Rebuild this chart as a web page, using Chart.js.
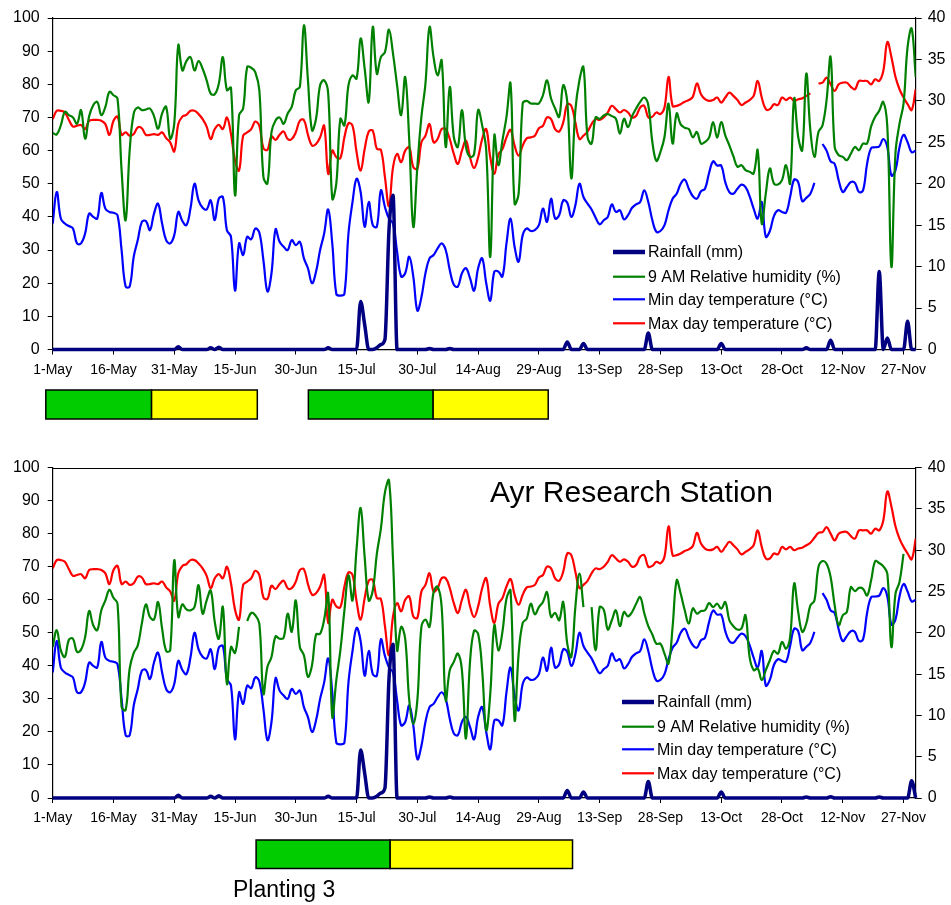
<!DOCTYPE html>
<html>
<head>
<meta charset="utf-8">
<title>Ayr Research Station</title>
<script src="https://cdn.jsdelivr.net/npm/chart.js@4.4.1/dist/chart.umd.min.js"></script>
<style>
  html, body { margin: 0; padding: 0; background: #fff; }
  #wrap { position: relative; width: 951px; height: 905px; }
  #c1 { position: absolute; left: 0; top: 0; }
  #c2 { position: absolute; left: 0; top: 450px; }
</style>
</head>
<body>
<div id="wrap">
  <canvas id="c1" width="951" height="450"></canvas>
  <canvas id="c2" width="951" height="455"></canvas>
</div>
<script>
// x = day number counted from 1-May (0) to 30-Nov (213)
const tickLabels = ['1-May', '16-May', '31-May', '15-Jun', '30-Jun', '15-Jul', '30-Jul', '14-Aug',
  '29-Aug', '13-Sep', '28-Sep', '13-Oct', '28-Oct', '12-Nov', '27-Nov'];

// min day temperature (°C), same in both panels
const minTemp = [
  15.2, 19.0, 15.8, 15.2, 14.9, 14.6, 12.8, 12.8, 14.0, 16.4,
  16.0, 15.8, 18.9, 17.0, 16.6, 16.5, 16.2, 12.0, 7.6, 7.6,
  11.2, 13.2, 15.4, 15.5, 14.4, 16.4, 17.6, 15.2, 13.2, 12.8,
  13.8, 16.6, 15.5, 15.0, 17.0, 20.0, 18.0, 17.1, 16.9, 18.0,
  15.6, 18.2, 18.4, 14.4, 13.6, 7.1, 12.8, 11.4, 13.6, 13.3,
  14.6, 14.1, 10.8, 7.0, 9.2, 14.5, 13.0, 12.4, 12.0, 13.2,
  12.6, 13.0, 11.0, 9.8, 8.0, 9.4, 12.0, 14.0, 16.9, 12.8,
  6.7, 6.5, 6.7, 14.0, 17.8, 20.6, 19.0, 14.8, 17.8, 15.0,
  14.8, 19.2, 17.2, 15.8, 15.2, 11.8, 8.8, 9.2, 11.2, 8.8,
  4.7, 6.3, 9.2, 11.0, 11.4, 12.2, 12.8, 12.0, 9.6, 7.8,
  7.6, 9.2, 9.8, 8.6, 7.1, 9.8, 11.0, 8.0, 5.9, 9.4,
  9.4, 8.8, 12.8, 15.8, 12.4, 10.6, 13.8, 14.6, 14.3, 14.4,
  15.0, 17.0, 15.4, 18.2, 15.8, 16.2, 18.0, 17.7, 16.0, 17.4,
  20.0, 18.4, 17.6, 16.9, 15.9, 15.1, 15.6, 16.0, 17.5, 16.6,
  16.8, 15.7, 16.2, 17.1, 17.5, 17.8, 19.2, 17.8, 15.6, 14.2,
  14.3, 15.0, 16.8, 18.2, 18.8, 20.0, 20.5, 19.4, 18.5, 18.2,
  19.1, 19.4, 21.3, 22.7, 22.2, 22.2, 20.2, 19.0, 18.8, 19.4,
  19.9, 19.6, 18.5, 17.0, 15.8, 17.8, 13.6, 14.3, 16.1, 16.8,
  16.6, 16.5, 18.4, 20.5, 20.2, 17.9, 18.3, 18.8, 20.1, null,
  24.8, 24.0, 22.7, 22.4, 20.4, 19.0, 19.6, 20.2, 20.1, 19.0,
  19.2, 22.4, 24.3, 24.4, 24.5, 25.4, 24.4, 21.0, 21.6, 24.4,
  25.9, 25.0, 23.8, 24.0
];

// max day temperature (°C)
const maxTemp = [
  27.8, 28.8, 28.8, 28.6, 27.7, 26.9, 27.0, 27.1, 26.6, 27.6,
  27.7, 27.7, 27.6, 27.2, 25.9, 27.6, 28.1, 25.9, 26.2, 25.8,
  26.0, 26.8, 26.7, 25.9, 25.9, 26.0, 25.9, 26.2, 25.5, 25.0,
  23.9, 27.2, 28.1, 28.3, 28.8, 28.8, 28.4, 27.8, 26.9, 25.4,
  26.6, 27.1, 26.6, 28.0, 26.0, 22.8, 21.6, 25.8, 26.2, 26.6,
  27.5, 27.0, 24.3, 24.1, 25.7, 25.3, 25.9, 26.3, 25.4, 25.4,
  26.2, 27.6, 27.7, 25.9, 24.6, 24.8, 25.6, 27.0, 21.2, 24.0,
  23.2, 23.1, 25.6, 27.3, 27.0, 23.8, 21.6, 24.2, 26.3, 26.4,
  24.2, 24.1, 20.8, 17.3, 22.0, 23.6, 22.6, 24.0, 24.4, 22.0,
  21.8, 25.0, 25.8, 27.2, 25.0, 25.4, 26.6, 26.6, 25.4, 23.6,
  22.4, 24.0, 25.2, 23.2, 21.9, 23.2, 25.4, 26.6, 23.2, 21.2,
  23.5, 24.2, 25.6, 26.5, 24.6, 23.4, 24.6, 25.5, 25.6, 25.8,
  26.7, 27.0, 28.0, 27.8, 26.6, 26.3, 27.4, 29.6, 29.4, 27.4,
  25.4, 25.8, 26.3, 27.2, 27.8, 27.7, 28.0, 28.6, 29.4, 29.0,
  28.6, 28.9, 28.6, 28.0, 28.2, 29.2, 29.4, 28.0, 28.1, 28.6,
  28.4, 29.2, 32.9, 29.4, 29.4, 29.6, 29.9, 30.1, 30.5, 32.1,
  30.8, 30.2, 30.0, 30.1, 30.4, 29.8, 30.4, 31.0, 30.6, 30.1,
  29.5, 29.8, 30.1, 30.6, 32.4, 30.4, 29.0, 29.0, 29.6, 29.5,
  30.4, 30.1, 30.4, 30.0, 30.2, 30.3, 30.6, 30.9, 31.5, 32.1,
  32.2, 32.8, 32.0, 31.2, 32.0, 32.2, 32.2, 31.7, 31.4, 32.4,
  32.4, 32.4, 32.0, 32.6, 32.4, 33.6, 37.1, 35.3, 32.9, 31.4,
  30.4, 29.6, 28.9, 31.4
];
// days missing from the max temperature line in the top panel
const maxTempGapsTop = [188];

// 9 AM relative humidity (%), top panel
const humTop = [
  65.3, 64.9, 67.6, 71.7, 70.7, 70.0, 68.1, 72.2, 63.6, 70.4,
  73.7, 74.7, 70.7, 73.2, 77.7, 76.7, 75.7, 54.1, 39.0, 60.1,
  71.2, 73.0, 72.2, 72.4, 72.7, 70.4, 66.6, 71.2, 73.2, 63.6,
  68.1, 91.8, 84.2, 87.0, 88.2, 84.2, 87.0, 84.7, 81.2, 77.2,
  77.0, 80.2, 88.2, 78.2, 79.0, 46.5, 70.7, 72.7, 85.2, 85.0,
  83.7, 78.2, 52.1, 50.1, 65.6, 69.1, 70.0, 68.1, 71.2, 73.2,
  78.2, 79.2, 97.8, 81.2, 66.1, 69.6, 79.7, 81.2, 77.2, 45.5,
  50.1, 69.6, 67.6, 79.7, 82.7, 81.7, 93.8, 84.7, 74.7, 97.3,
  83.2, 88.2, 89.7, 96.5, 89.2, 79.7, 70.7, 82.2, 63.1, 37.0,
  55.1, 70.2, 80.2, 97.3, 88.2, 82.7, 87.2, 61.1, 79.2, 64.1,
  61.1, 72.2, 61.1, 58.1, 58.9, 72.2, 67.6, 60.1, 27.9, 64.6,
  55.6, 63.1, 70.2, 80.2, 44.0, 47.0, 74.2, 75.0, 74.2, 74.2,
  74.2, 76.7, 81.2, 75.7, 72.7, 70.2, 79.7, 74.7, 51.6, 72.2,
  81.2, 85.2, 64.1, 62.1, 70.0, 69.6, 70.6, 71.0, 70.4, 69.6,
  65.1, 69.6, 67.1, 70.4, 72.7, 74.7, 76.0, 73.7, 62.6, 56.9,
  59.6, 64.1, 74.2, 62.1, 71.2, 67.9, 66.9, 66.5, 64.0, 65.6,
  62.1, 62.6, 63.9, 68.6, 63.9, 68.6, 64.6, 61.6, 58.3, 55.1,
  55.6, 54.1, 53.6, 53.1, 60.1, 38.0, 47.0, 54.6, 50.1, 49.8,
  51.1, 55.6, 50.1, 75.7, 64.1, 60.1, 83.2, 66.1, 58.1, 65.6,
  67.6, 75.2, 88.2, 61.1, 58.6, 58.1, 57.1, 59.1, 61.1, 60.1,
  62.1, 62.1, 67.3, 70.2, 72.0, 74.7, 67.1, 24.9, 59.1, 68.1,
  74.2, 91.3, 96.8, 82.2
];

// 9 AM relative humidity (%), bottom panel
const humBottom = [
  45.7, 50.8, 44.7, 42.7, 47.9, 48.2, 44.2, 44.9, 48.7, 56.6,
  52.3, 50.8, 56.8, 59.8, 63.0, 60.6, 58.8, 27.6, 26.6, 39.2,
  43.9, 46.2, 52.8, 58.6, 54.8, 54.0, 59.3, 51.3, 44.5, 44.7,
  71.9, 54.8, 58.6, 57.1, 56.8, 57.8, 64.4, 55.8, 59.8, 62.8,
  53.3, 48.2, 57.8, 34.6, 45.7, 43.9, 51.8, null, 53.6, 56.0,
  55.3, 52.8, 31.6, 39.7, 42.7, 48.9, 48.2, 48.5, 55.8, 50.3,
  59.8, 45.7, 43.2, 36.7, 40.2, 49.5, 49.7, 54.0, 61.8, 24.6,
  35.7, 44.7, 56.8, 67.4, 59.8, 75.4, 87.8, 72.9, 59.8, 62.8,
  73.9, 81.5, 92.5, 96.1, 71.9, 44.7, 51.8, 48.2, 29.6, 22.4,
  29.6, 51.8, 54.0, 51.8, 62.3, 64.0, 57.8, 29.6, 38.7, 41.2,
  43.7, 38.7, 18.0, 41.2, 50.6, 49.7, 38.7, 20.5, 31.6, 52.3,
  44.7, 50.3, 60.3, 62.8, 23.6, 43.7, 53.0, 54.3, 58.8, 55.6,
  57.8, 59.3, 62.3, 54.8, 56.0, 53.8, 59.3, 46.7, 42.7, 57.8,
  67.9, 57.8, null, 57.8, 44.7, 57.8, 57.0, 51.0, 53.8, 56.8,
  52.0, 56.3, 55.0, 56.3, 58.8, 60.8, 56.0, 52.0, 49.5, 46.7,
  46.7, 43.7, 40.7, 51.8, 65.9, 61.8, 56.8, 52.8, 57.4, 55.8,
  56.6, 56.8, 59.0, 57.8, 58.8, 57.3, 59.3, 53.8, 52.0, 51.0,
  51.3, 55.3, 42.7, 38.7, 39.2, 35.7, 38.7, 41.7, 44.5, 43.7,
  47.2, 45.2, 48.7, 64.9, 56.3, 50.3, 52.8, 58.3, 59.8, 69.9,
  71.7, 70.9, 66.9, 58.3, 52.3, 55.3, 56.3, 63.8, 62.6, 63.6,
  63.3, 61.3, 65.9, 71.7, 71.1, 70.1, 67.9, 45.7, 61.8, 65.4,
  73.9, null, null, null
];

// rainfall (mm): only the rainy days, every other day is 0
const rainDaysTop = [31, 39, 41, 68, 76, 77, 80, 81, 82, 83, 84, 93, 98, 127, 131, 147, 165, 186, 192, 204, 206, 211];
const rainTop = [0.8, 0.5, 0.7, 0.5, 14.5, 7.5, 0.5, 1.5, 3.0, 36, 46.5, 0.3, 0.3, 2.3, 1.8, 5.0, 1.8, 0.5, 2.8, 23.5, 3.5, 8.5];
const rainDaysBottom = [31, 39, 41, 68, 76, 77, 80, 81, 82, 83, 84, 93, 98, 127, 131, 147, 165, 186, 192, 204, 212];
const rainBottom = [0.8, 0.5, 0.7, 0.5, 14.5, 7.5, 0.5, 1.5, 3.0, 36, 46.5, 0.3, 0.3, 2.3, 1.8, 5.0, 1.8, 0.3, 0.4, 0.3, 5.2];

// crop stage bars under the axis, in days: [from, to]
const stagesTop = [[-1.7, 24.4], [24.4, 50.5], [63.1, 93.9], [93.9, 122.3]];
const stagesBottom = [[50.2, 83.3], [83.3, 128.3]];
const stageColors = ['#00CC00', '#FFFF00'];

const LAST_DAY = 213;
const FONT = '"Liberation Sans", Arial, Helvetica, sans-serif';
Chart.defaults.font.family = FONT;
Chart.defaults.color = '#000';

function daily(values) {
  return values.map((v, i) => ({ x: i, y: v }));
}
function rainSeries(days, mm) {
  const out = [];
  for (let d = 0; d <= LAST_DAY; d++) {
    const k = days.indexOf(d);
    out.push({ x: d, y: k >= 0 ? mm[k] : 0 });
  }
  return out;
}

// frame, legend, stage bars and free texts
const extras = {
  id: 'extras',
  afterDraw(chart, args, o) {
    const ctx = chart.ctx;
    const a = chart.chartArea;
    const xs = chart.scales.x;
    ctx.save();
    ctx.strokeStyle = '#000';
    ctx.lineWidth = 1.2;
    ctx.beginPath();
    ctx.moveTo(a.left, Math.round(a.top) + 0.5);
    ctx.lineTo(a.right, Math.round(a.top) + 0.5);
    ctx.stroke();

    // legend
    const rows = [252, 276.7, 299.3, 323.3];
    ctx.font = '16px ' + FONT;
    ctx.textBaseline = 'middle';
    ctx.textAlign = 'left';
    chart.data.datasets.forEach((ds, i) => {
      ctx.strokeStyle = ds.borderColor;
      ctx.lineWidth = i === 0 ? 4.5 : ds.borderWidth;
      ctx.beginPath();
      ctx.moveTo(o.legendX, rows[i]);
      ctx.lineTo(o.legendX + 32, rows[i]);
      ctx.stroke();
      ctx.fillStyle = '#000';
      ctx.fillText(ds.label, o.legendX + 35, rows[i] + 1);
    });

    // stage bars
    o.stages.forEach((s, i) => {
      const x0 = xs.getPixelForValue(s[0]);
      const x1 = xs.getPixelForValue(s[1]);
      ctx.fillStyle = stageColors[i % 2];
      ctx.fillRect(x0, o.barTop, x1 - x0, o.barH);
      ctx.strokeStyle = '#000';
      ctx.lineWidth = 1.5;
      ctx.strokeRect(x0, o.barTop, x1 - x0, o.barH);
    });

    (o.texts || []).forEach(t => {
      ctx.font = t.size + 'px ' + FONT;
      ctx.fillStyle = '#000';
      ctx.textBaseline = 'alphabetic';
      ctx.fillText(t.text, t.x, t.y);
    });
    ctx.restore();
  }
};

function makePanel(canvasId, hum, rain, maxT, p) {
  return new Chart(document.getElementById(canvasId), {
    type: 'line',
    data: {
      datasets: [
        { label: 'Rainfall (mm)', data: rain, yAxisID: 'yL', borderColor: '#000080',
          borderWidth: 3.5, cubicInterpolationMode: 'monotone', clip: 6 },
        { label: '9 AM Relative humidity (%)', data: daily(hum), yAxisID: 'yL',
          borderColor: '#008000', borderWidth: 2.2, tension: 0.4 },
        { label: 'Min day temperature (°C)', data: daily(minTemp), yAxisID: 'yR',
          borderColor: '#0000FF', borderWidth: 2.2, tension: 0.4 },
        { label: 'Max day temperature (°C)', data: daily(maxT), yAxisID: 'yR',
          borderColor: '#FF0000', borderWidth: 2.2, tension: 0.4 }
      ]
    },
    options: {
      responsive: false,
      animation: false,
      events: [],
      layout: { padding: { top: p.top, left: 0, right: 0, bottom: 0 } },
      elements: { point: { radius: 0 } },
      plugins: {
        legend: { display: false },
        tooltip: { enabled: false },
        extras: p.extras
      },
      scales: {
        x: {
          type: 'linear', min: 0, max: LAST_DAY,
          afterFit: s => { s.height = p.xH; },
          ticks: {
            stepSize: 15, includeBounds: false, autoSkip: false, maxRotation: 0,
            padding: 7, color: '#000', font: { size: 14 },
            callback: v => tickLabels[Math.round(v / 15)]
          },
          grid: { drawOnChartArea: false, tickLength: 5, color: '#000' },
          border: { color: '#000', width: 1.2 }
        },
        yL: {
          position: 'left', min: 0, max: 100,
          afterFit: s => { s.width = 52.7; },
          ticks: { stepSize: 10, padding: 8, color: '#000', font: { size: 16 } },
          grid: { drawOnChartArea: false, tickLength: 5, color: '#000' },
          border: { color: '#000', width: 1.2 }
        },
        yR: {
          position: 'right', min: 0, max: 40,
          afterFit: s => { s.width = 35.3; },
          ticks: { stepSize: 5, padding: 6, color: '#000', font: { size: 16 } },
          grid: { drawOnChartArea: false, tickLength: 6, color: '#000' },
          border: { color: '#000', width: 1.2 }
        }
      }
    },
    plugins: [extras]
  });
}

const maxTempTop = maxTemp.map((v, i) => maxTempGapsTop.includes(i) ? null : v);

makePanel('c1', humTop, rainSeries(rainDaysTop, rainTop), maxTempTop, {
  top: 18, xH: 100.5,
  extras: { legendX: 613, stages: stagesTop, barTop: 390, barH: 29 }
});

makePanel('c2', humBottom, rainSeries(rainDaysBottom, rainBottom), maxTemp, {
  top: 17, xH: 107,
  extras: {
    legendX: 622, stages: stagesBottom, barTop: 390, barH: 28.5,
    texts: [
      { text: 'Ayr Research Station', x: 490, y: 51.7, size: 30 },
      { text: 'Planting 3', x: 233, y: 446.7, size: 23 }
    ]
  }
});
</script>
</body>
</html>
